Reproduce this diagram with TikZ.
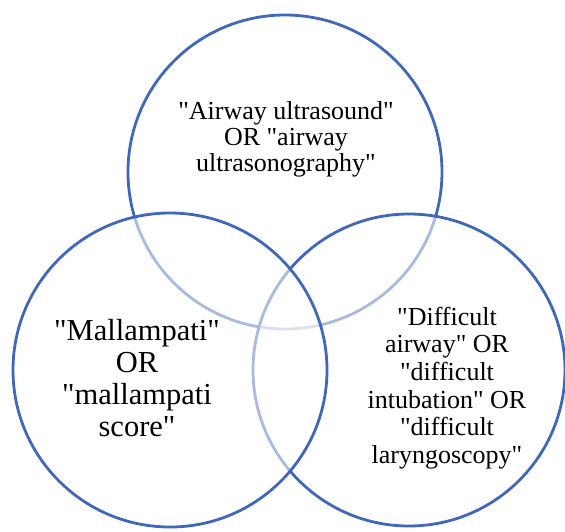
\documentclass[tikz,border=0pt]{standalone}
\usepackage{fontspec}
\setmainfont{Liberation Serif}
\definecolor{Vcol}{HTML}{4168B8}
\definecolor{Textcol}{HTML}{000000}
\usetikzlibrary{positioning}
\newcommand{\qmark}{\textquotedbl}
\tikzset{
    setcirc/.style={circle, draw=Vcol, line width=2.8pt, fill=white, fill opacity=0.55, minimum size=314pt, inner sep=0pt},
    setlabel/.style={align=center, text=Textcol, inner sep=0pt}
}

\begin{document}
\begin{tikzpicture}[x=1pt, y=-1pt]
    \useasboundingbox (0,0) rectangle (565,531);

    % Circles (drawn top, right, left so the overlaps fade like the original)
    \node[setcirc] (airway) at (285,172) {};
    \node[setcirc, minimum size=312pt] (difficult) at (409,370) {};
    \node[setcirc] (mallampati) at (170,370) {};

    % Labels
    \node[setlabel, font=\fontsize{26}{26}\selectfont] (airwaytext) at (286,139)
        {\qmark Airway ultrasound\qmark\\OR \qmark airway\\ultrasonography\qmark};
    \node[setlabel, font=\fontsize{30.5}{32}\selectfont] (mallampatitext) at (137,378)
        {\qmark Mallampati\qmark\\OR\\\qmark mallampati\\score\qmark};
    \node[setlabel, font=\fontsize{26}{27.6}\selectfont] (difficulttext) at (447,388)
        {\qmark Difficult\\airway\qmark{} OR\\\qmark difficult\\intubation\qmark{} OR\\\qmark difficult\\laryngoscopy\qmark};
\end{tikzpicture}
\end{document}
